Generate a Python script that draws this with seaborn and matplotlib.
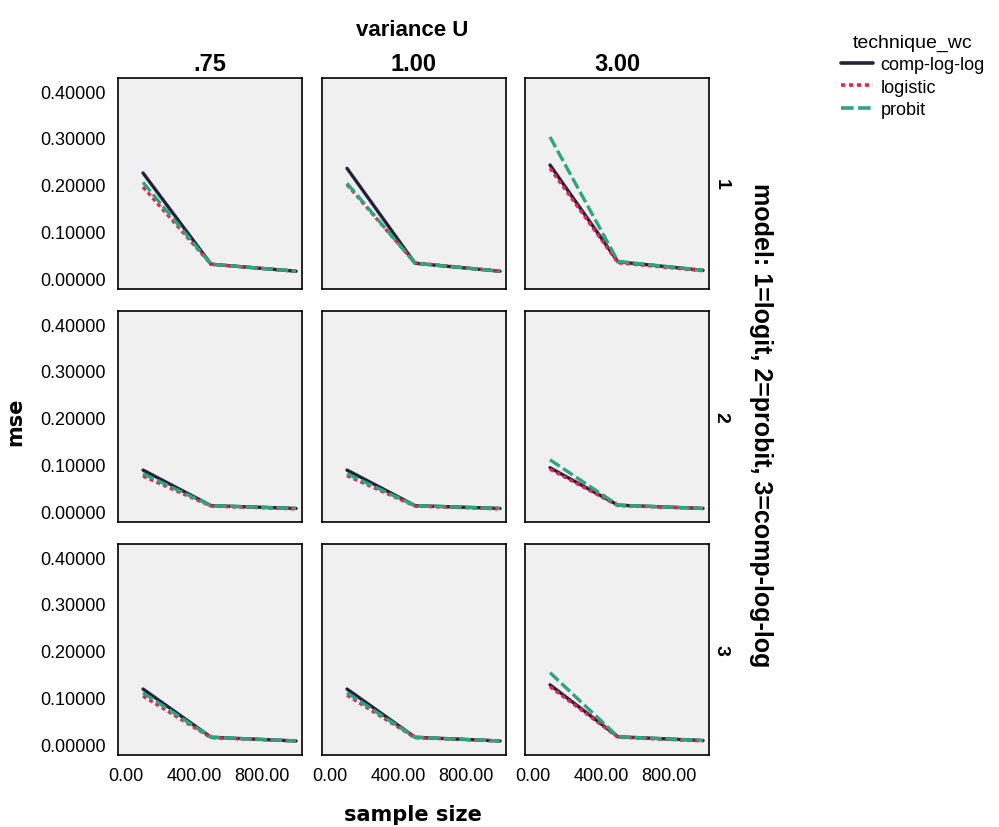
import pandas as pd
import matplotlib
matplotlib.use('Agg')
import matplotlib.pyplot as plt
import seaborn as sns
from matplotlib.lines import Line2D

# data
sample_sizes = [100, 500, 1000]
variance_levels = ['.75', '1.00', '3.00']
models = ['1', '2', '3']
techniques = ['comp-log-log', 'logistic', 'probit']

# mse[model][variance][sample size]
mse_cll = [
    [[0.225, 0.030, 0.015], [0.235, 0.032, 0.015], [0.242, 0.035, 0.017]],
    [[0.088, 0.012, 0.006], [0.088, 0.012, 0.006], [0.093, 0.013, 0.006]],
    [[0.118, 0.015, 0.007], [0.118, 0.015, 0.007], [0.127, 0.016, 0.008]],
]
mse_logistic = [
    [[0.195, 0.030, 0.015], [0.200, 0.033, 0.015], [0.235, 0.033, 0.016]],
    [[0.075, 0.011, 0.005], [0.076, 0.011, 0.005], [0.090, 0.012, 0.006]],
    [[0.103, 0.014, 0.007], [0.105, 0.014, 0.007], [0.123, 0.015, 0.007]],
]
mse_probit = [
    [[0.205, 0.030, 0.015], [0.203, 0.032, 0.015], [0.302, 0.036, 0.017]],
    [[0.080, 0.012, 0.006], [0.080, 0.012, 0.006], [0.110, 0.013, 0.006]],
    [[0.110, 0.015, 0.007], [0.110, 0.015, 0.007], [0.153, 0.016, 0.008]],
]

rows = []
for tech, arr in zip(techniques, [mse_cll, mse_logistic, mse_probit]):
    for i, m in enumerate(models):
        for j, v in enumerate(variance_levels):
            for k, n in enumerate(sample_sizes):
                rows.append({'technique_wc': tech, 'model': m, 'variance': v,
                             'sample size': n, 'mse': arr[i][j][k]})
df = pd.DataFrame(rows)

sns.set_style('white')
plt.rcParams['font.family'] = ['Liberation Sans', 'DejaVu Sans']
plt.rcParams['text.color'] = 'black'
plt.rcParams['xtick.color'] = 'black'
plt.rcParams['ytick.color'] = 'black'

palette = {'comp-log-log': '#22223a', 'logistic': '#e8234e', 'probit': '#2ea57e'}
dashes = {'comp-log-log': '', 'logistic': (1.2, 1.0), 'probit': (3.5, 1.2)}

fig = plt.figure(figsize=(9.99, 8.28), dpi=100)
W, H = 999, 828
col_left = [118, 322, 525]
row_top = [79, 312, 545]
pw, ph = 184, 211

for i, m in enumerate(models):
    for j, v in enumerate(variance_levels):
        ax = fig.add_axes([col_left[j] / W, 1 - (row_top[i] + ph) / H, pw / W, ph / H])
        sub = df[(df['model'] == m) & (df['variance'] == v)]
        sns.lineplot(data=sub, x='sample size', y='mse', hue='technique_wc',
                     style='technique_wc', palette=palette, dashes=dashes,
                     hue_order=techniques, style_order=techniques,
                     linewidth=2.4, ax=ax, legend=False)
        ax.set_facecolor('#f0f0f0')
        ax.set_xlim(-47, 1035)
        ax.set_ylim(-0.023, 0.428)
        ax.set_xticks([0, 400, 800])
        ax.set_yticks([0, 0.1, 0.2, 0.3, 0.4])
        ax.set_xlabel('')
        ax.set_ylabel('')
        for s in ax.spines.values():
            s.set_color('black')
            s.set_linewidth(1.2)
        ax.tick_params(direction='out', length=8, width=1.6, color='black',
                       labelsize=13, pad=1)
        if j == 0:
            ax.set_yticklabels(['%.5f' % t for t in [0, 0.1, 0.2, 0.3, 0.4]])
        else:
            ax.tick_params(axis='y', length=0, labelleft=False)
        if i == 2:
            ax.set_xticklabels(['%.2f' % t for t in [0, 400, 800]])
        else:
            ax.tick_params(axis='x', length=0, labelbottom=False)
        if i == 0:
            ax.set_title(v, fontsize=17, fontweight='bold', pad=6)
        if j == 2:
            # row label sits just right of the panel
            ax.text((721 - col_left[j]) / pw, 0.5, m, transform=ax.transAxes,
                    rotation=-90, fontsize=14, fontweight='bold',
                    va='center', ha='center')

fig.text(412 / W, 1 - 30 / H, 'variance U', ha='center', va='center',
         fontsize=16, fontweight='bold')
fig.text(761 / W, 1 - 425 / H, 'model: 1=logit, 2=probit, 3=comp-log-log',
         rotation=-90, ha='center', va='center', fontsize=18, fontweight='bold')
fig.text(15 / W, 1 - 422 / H, 'mse', rotation=90, ha='center', va='center',
         fontsize=15, fontweight='bold', family='DejaVu Sans')
fig.text(413 / W, 1 - 815 / H, 'sample size', ha='center', va='center',
         fontsize=15, fontweight='bold', family='DejaVu Sans')

handles = [Line2D([], [], color=palette[t], lw=2.6,
                  dashes=dashes[t] if dashes[t] else (None, None)) for t in techniques]
leg = fig.legend(handles, techniques, title='technique_wc', loc='upper left',
                 bbox_to_anchor=(828 / W, 1 - 22 / H), frameon=False,
                 fontsize=13, title_fontsize=14, handlelength=1.8,
                 handletextpad=0.4, labelspacing=0.3, borderpad=0.2)

fig.savefig('out.png', dpi=100)
